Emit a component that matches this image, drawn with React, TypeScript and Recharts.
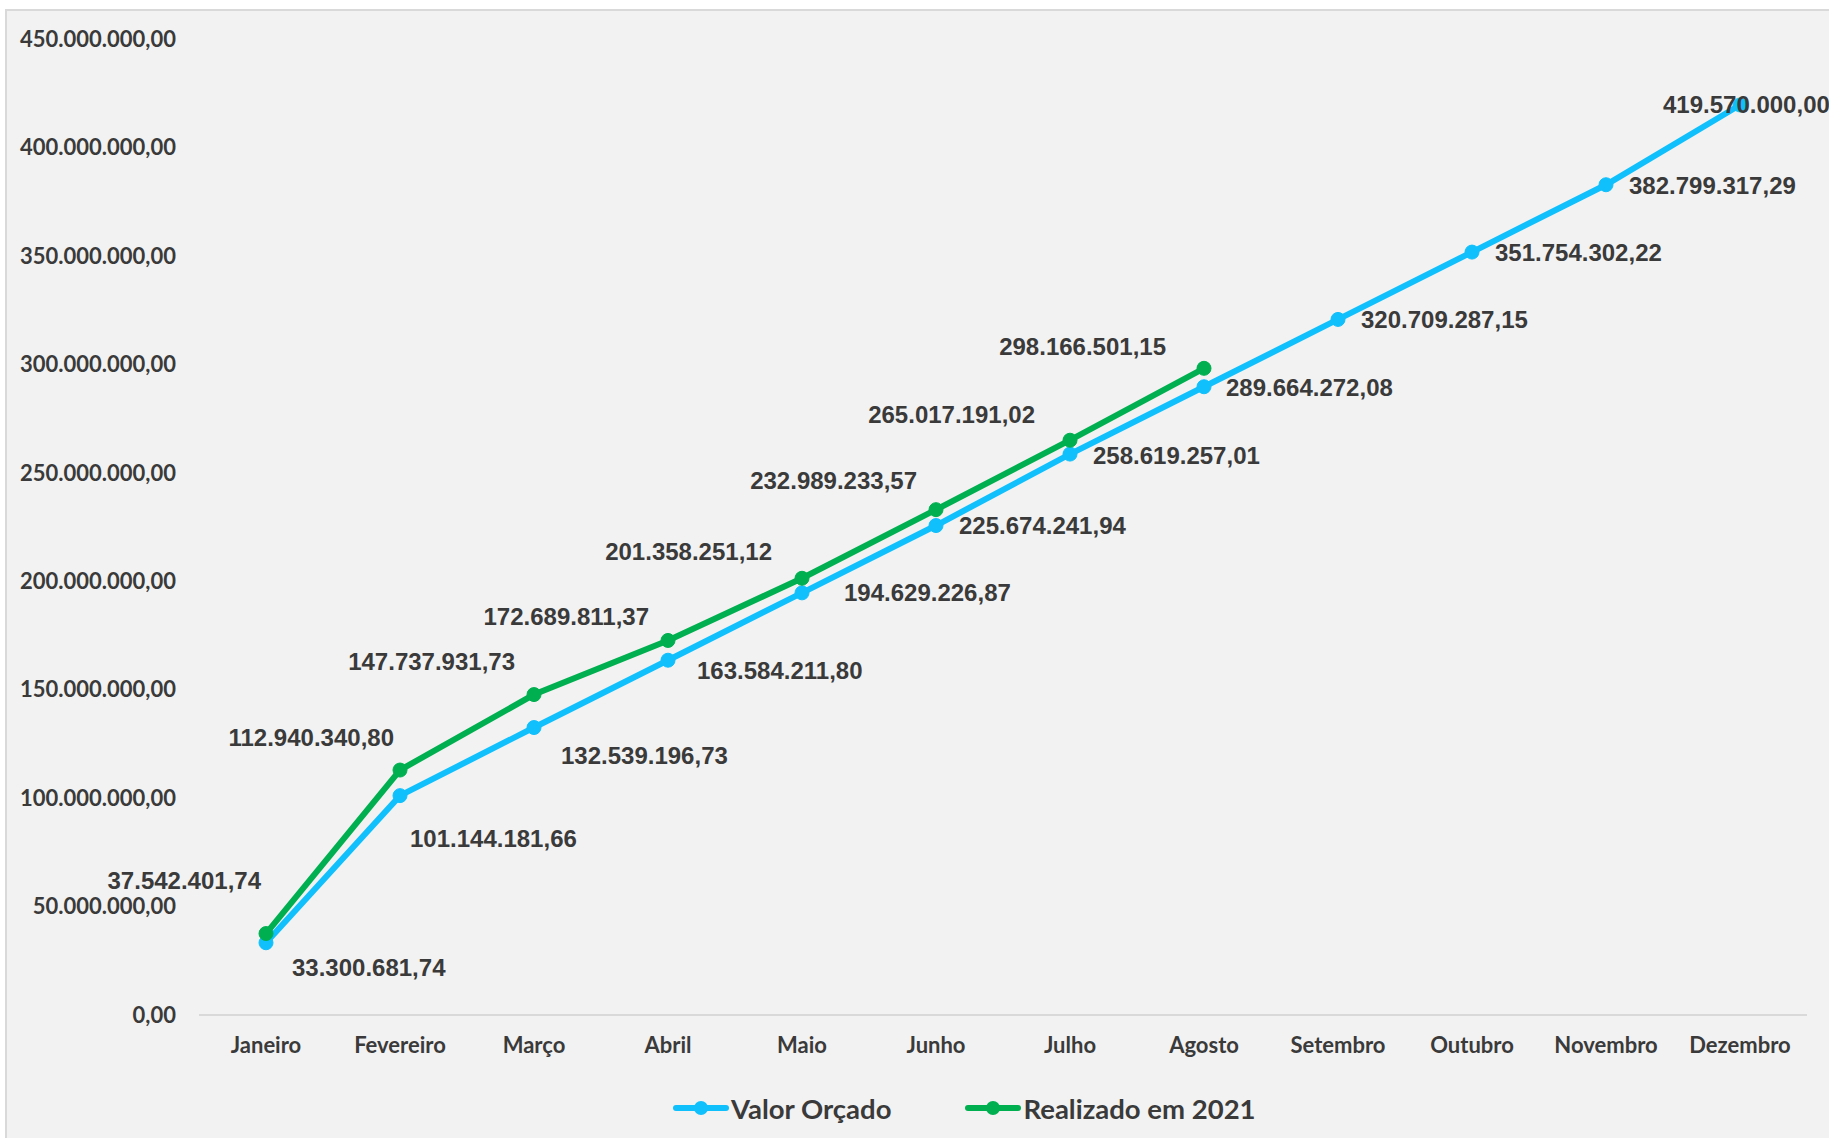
import { LineChart, Line, XAxis, YAxis, Legend, LabelList } from "recharts";

const months = [
  "Janeiro", "Fevereiro", "Março", "Abril", "Maio", "Junho",
  "Julho", "Agosto", "Setembro", "Outubro", "Novembro", "Dezembro",
];

const valorOrcado = [
  33300681.74, 101144181.66, 132539196.73, 163584211.8, 194629226.87, 225674241.94,
  258619257.01, 289664272.08, 320709287.15, 351754302.22, 382799317.29, 419570000.0,
];

const realizado2021 = [
  37542401.74, 112940340.8, 147737931.73, 172689811.37, 201358251.12, 232989233.57,
  265017191.02, 298166501.15, null, null, null, null,
];

const yTicks = [0, 50e6, 100e6, 150e6, 200e6, 250e6, 300e6, 350e6, 400e6, 450e6];

// hand-placed label offsets, like in the spreadsheet (dx, dy in px)
const valorOffsets = [
  [26, 25], [10, 43], [27, 28], [29, 10], [42, 0], [23, 0],
  [23, 1], [22, 1], [23, 0], [23, 0], [23, 1], [-77, 0],
];
const realizadoOffsets = [
  [-5, -53], [-6, -33], [-19, -33], [-19, -24], [-30, -27], [-19, -29], [-35, -26], [-38, -22],
];

const BLUE = "#10c0fc";
const GREEN = "#00b050";
const TEXT = "#3a3a3a";
const AXIS_FONT = "Lato, 'Noto Sans', sans-serif";
const LABEL_FONT = "'Liberation Sans', Arial, sans-serif";

const data = months.map((m, i) => ({
  month: m,
  valor: valorOrcado[i],
  realizado: realizado2021[i],
}));

function fmt(v: number) {
  const [int, dec] = v.toFixed(2).split(".");
  return int.replace(/\B(?=(\d{3})+(?!\d))/g, ".") + "," + dec;
}

function makeLabel(offsets: number[][], anchor: "start" | "end") {
  return (props: any) => {
    const { x, y, value, index } = props;
    if (value == null) return null;
    const [dx, dy] = offsets[index] || [0, 0];
    return (
      <text
        x={x + dx}
        y={y + dy}
        textAnchor={anchor}
        dominantBaseline="central"
        fontFamily={LABEL_FONT}
        fontWeight={700}
        fontSize={24}
        fill={TEXT}
      >
        {fmt(value)}
      </text>
    );
  };
}

function LegendContent() {
  const items = [
    { name: "Valor Orçado", color: BLUE },
    { name: "Realizado em 2021", color: GREEN },
  ];
  return (
    <div style={{ display: "flex", alignItems: "center", height: 40, paddingLeft: 673 }}>
      {items.map((it, i) => (
        <div key={it.name} style={{ display: "flex", alignItems: "center", marginRight: i === 0 ? 74 : 0 }}>
          <svg width={56} height={20}>
            <line x1={3} y1={10} x2={53} y2={10} stroke={it.color} strokeWidth={6} strokeLinecap="round" />
            <circle cx={28} cy={10} r={7} fill={it.color} />
          </svg>
          <span style={{ fontFamily: AXIS_FONT, fontWeight: 700, fontSize: 27.5, color: TEXT, marginLeft: 2 }}>
            {it.name}
          </span>
        </div>
      ))}
    </div>
  );
}

export default function App() {
  return (
    <div style={{ position: "absolute", left: 0, top: 0, width: 1829, height: 1138, overflow: "hidden", background: "#fff" }}>
      <div
        style={{
          position: "absolute",
          left: 5,
          top: 9,
          width: 1900,
          height: 1200,
          background: "#f2f2f2",
          border: "2px solid #d9d9d9",
        }}
      />
      <div style={{ position: "absolute", left: 0, top: 0 }}>
        <LineChart width={1829} height={1138} data={data} margin={{ top: 39, right: 22, left: 0, bottom: 33 }}>
          <XAxis
            dataKey="month"
            height={50}
            padding={{ left: 67, right: 67 }}
            tickLine={false}
            tickSize={0}
            tickMargin={22}
            axisLine={{ stroke: "#d9d9d9", strokeWidth: 2 }}
            tick={{ fontFamily: AXIS_FONT, fontWeight: 700, fontSize: 22, fill: TEXT }}
          />
          <YAxis
            width={199}
            domain={[0, 450e6]}
            ticks={yTicks}
            interval={0}
            axisLine={false}
            tickLine={false}
            tickSize={0}
            tickMargin={23}
            tickFormatter={fmt}
            tick={{ fontFamily: AXIS_FONT, fontWeight: 700, fontSize: 22, fill: TEXT }}
          />
          <Legend
            verticalAlign="bottom"
            content={<LegendContent />}
            wrapperStyle={{ left: 0, top: 1088, width: 1829, height: 40 }}
          />
          <Line
            dataKey="valor"
            name="Valor Orçado"
            stroke={BLUE}
            strokeWidth={6}
            dot={{ r: 7, fill: BLUE, stroke: BLUE, strokeWidth: 1 }}
            activeDot={false}
            isAnimationActive={false}
          >
            <LabelList dataKey="valor" content={makeLabel(valorOffsets, "start")} />
          </Line>
          <Line
            dataKey="realizado"
            name="Realizado em 2021"
            stroke={GREEN}
            strokeWidth={6}
            dot={{ r: 7, fill: GREEN, stroke: GREEN, strokeWidth: 1 }}
            activeDot={false}
            isAnimationActive={false}
          >
            <LabelList dataKey="realizado" content={makeLabel(realizadoOffsets, "end")} />
          </Line>
        </LineChart>
      </div>
    </div>
  );
}
